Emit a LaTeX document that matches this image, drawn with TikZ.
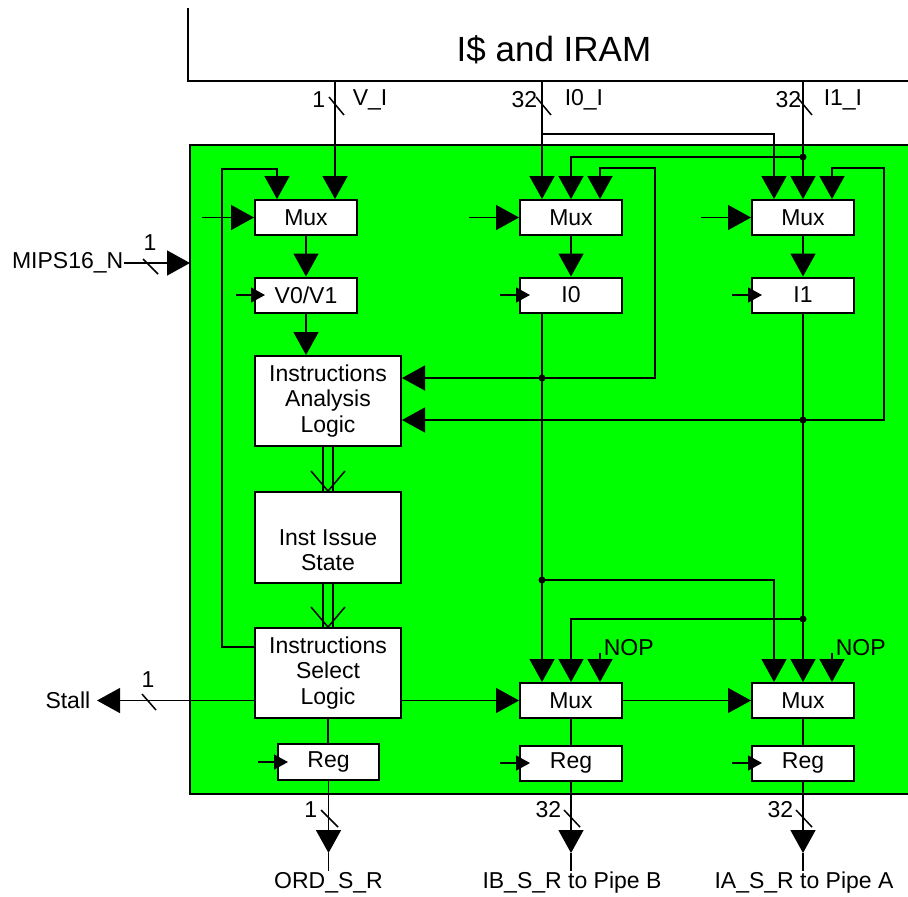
\documentclass[tikz,border=0pt]{standalone}
\usepackage{fontspec}
\setmainfont{Liberation Sans}
\usetikzlibrary{arrows.meta}

\definecolor{issuegreen}{RGB}{0,255,0}

\tikzset{
  txt/.style={inner sep=0pt, font=\fontsize{11.5}{12.8}\selectfont},
  blk/.style={draw, fill=white, line width=1pt, inner sep=0pt, align=center, font=\fontsize{11.5}{12.8}\selectfont},
  mux/.style={blk, minimum width=51pt, minimum height=17.5pt},
  logic/.style={blk, minimum width=73pt, minimum height=45pt},
  big/.style={-{Triangle[length=11.5pt,width=12.5pt]}},
  clk/.style={-{Triangle[length=7pt,width=7.5pt]}}
}

\begin{document}
\begin{tikzpicture}[x=0.5pt, y=-0.5pt, line width=0.75pt]
    \useasboundingbox (0,0) rectangle (908,896);

    % Issue unit background
    \draw[fill=issuegreen, line width=1pt] (190,145) rectangle (930,794);

    % I$ and IRAM
    \draw (188,8) -- (188,81) -- (930,81);
    \node[txt, font=\fontsize{17.5}{20}\selectfont] (iram) at (554,50) {I\$ and IRAM};

    % Coordinates
    \coordinate (vI) at (335,81);
    \coordinate (i0I) at (542,81);
    \coordinate (i1I) at (803,81);
    \coordinate (br0) at (542,134);
    \coordinate (j1) at (803,157);
    \coordinate (fb0) at (542,378);
    \coordinate (fb1) at (803,420);
    \coordinate (j0low) at (542,580);
    \coordinate (j1low) at (803,619);
    \coordinate (nopB) at (600,653);
    \coordinate (nopA) at (832,653);
    \coordinate (mips) at (124,263);
    \coordinate (stall) at (97,700.5);

    % Blocks
    \node[mux] (muxV) at (306,217.5) {Mux};
    \node[mux] (vreg) at (306,295) {V0/V1};
    \node[mux] (mux0) at (571,217.5) {Mux};
    \node[mux] (i0) at (571,295) {I0};
    \node[mux] (mux1) at (803,217.5) {Mux};
    \node[mux] (i1) at (803,295) {I1};
    \node[logic] (ial) at (328,401) {Instructions\\Analysis\\Logic};
    \node[logic, minimum height=45.5pt] (iis) at (328,537.5) {};
    \node[txt, align=center] (iistxt) at (328,550) {Inst Issue\\State};
    \node[logic] (isl) at (328,673) {Instructions\\Select\\Logic};
    \node[mux] (muxB) at (571,700.5) {Mux};
    \node[mux] (muxA) at (803,700.5) {Mux};
    \node[mux, minimum width=50.5pt, minimum height=18pt] (regO) at (328.5,762) {Reg};
    \node[mux] (regB) at (571,763) {Reg};
    \node[mux] (regA) at (803,763) {Reg};

    % Inputs from I$ and IRAM
    \draw[big] (vI) -- (vI |- muxV.north);
    \draw[big] (i0I) -- ([xshift=-14.5pt]mux0.north);
    \draw[big] (br0) -| ([xshift=-14.5pt]mux1.north);
    \draw[big] (i1I) -- (mux1.north);
    \draw[big] (j1) -| (mux0.north);
    \fill (j1) circle (1.75pt);
    \draw (329,97) -- (344,115);
    \draw (536,97) -- (551,115);
    \draw (797,97) -- (812,115);
    \node[txt, anchor=east] (wV) at (326,100) {1};
    \node[txt, anchor=west] (nV) at (352,100) {V\_I};
    \node[txt, anchor=east] (w0) at (538,100) {32};
    \node[txt, anchor=west] (n0) at (564,100) {I0\_I};
    \node[txt, anchor=east] (w1) at (802,100) {32};
    \node[txt, anchor=west] (n1) at (823,100) {I1\_I};

    % Side inputs of the muxes
    \draw[big] ([xshift=-26pt]muxV.west) -- (muxV.west);
    \draw[big] ([xshift=-25pt]mux0.west) -- (mux0.west);
    \draw[big] ([xshift=-25pt]mux1.west) -- (mux1.west);
    \draw[big] (muxV.south) -- (vreg.north);
    \draw[big] (mux0.south) -- (i0.north);
    \draw[big] (mux1.south) -- (i1.north);

    % Clocks
    \draw[clk] ([xshift=-9pt]vreg.west) -- ([xshift=5.5pt]vreg.west);
    \draw[clk] ([xshift=-9.5pt]i0.west) -- ([xshift=5.5pt]i0.west);
    \draw[clk] ([xshift=-9.5pt]i1.west) -- ([xshift=5.5pt]i1.west);
    \draw[clk] ([xshift=-9.5pt]regO.west) -- ([xshift=5.5pt]regO.west);
    \draw[clk] ([xshift=-9.5pt]regB.west) -- ([xshift=5.5pt]regB.west);
    \draw[clk] ([xshift=-9.5pt]regA.west) -- ([xshift=5.5pt]regA.west);

    % Feedback of I0 and I1
    \draw[big] (fb0) -| (655,168) -| ([xshift=14.5pt]mux0.north);
    \draw[big] (fb0) -- (fb0 -| ial.east);
    \fill (fb0) circle (1.75pt);
    \draw[big] (fb1) -| (884,168) -| ([xshift=14.5pt]mux1.north);
    \draw[big] (fb1) -- (fb1 -| ial.east);
    \fill (fb1) circle (1.75pt);

    % Left column
    \draw[big] (vreg.south) -- (vreg.south |- ial.north);
    \draw ([xshift=-2.5pt]ial.south) -- ([xshift=-2.5pt]iis.north);
    \draw ([xshift=2.5pt]ial.south) -- ([xshift=2.5pt]iis.north);
    \draw ([xshift=-8.5pt,yshift=10pt]iis.north) -- (iis.north) -- ([xshift=8.5pt,yshift=10pt]iis.north);
    \draw ([xshift=-2.5pt]iis.south) -- ([xshift=-2.5pt]isl.north);
    \draw ([xshift=2.5pt]iis.south) -- ([xshift=2.5pt]isl.north);
    \draw ([xshift=-8.5pt,yshift=10pt]isl.north) -- (isl.north) -- ([xshift=8.5pt,yshift=10pt]isl.north);
    \draw[big] ([yshift=13pt]isl.west) -| (222,169) -| ([xshift=-14.5pt]muxV.north);
    \draw (isl.south) -- (isl.south |- regO.north);

    % MIPS16_N input
    \draw[big] (mips) -- (190,263);
    \node[txt, anchor=east] (mipsN) at (mips) {MIPS16\_N};
    \draw (143,259) -- (158,274);
    \node[txt] (wM) at (150,243) {1};

    % Output muxes
    \draw[big] (i0.south -| i0I) -- ([xshift=-14.5pt]muxB.north);
    \draw[big] (i1.south) -- (muxA.north);
    \draw[big] (j0low) -| ([xshift=-14.5pt]muxA.north);
    \fill (j0low) circle (1.75pt);
    \draw[big] (j1low) -| (muxB.north);
    \fill (j1low) circle (1.75pt);
    \draw[big] (nopB) -- (nopB |- muxB.north);
    \node[txt, anchor=west] (nopBt) at (603,648) {NOP};
    \draw[big] (nopA) -- (nopA |- muxA.north);
    \node[txt, anchor=west] (nopAt) at (835,648) {NOP};
    \draw[big] (muxB.west -| isl.east) -- (muxB.west);
    \draw[big] (muxB.east) -- (muxA.west);
    \draw (muxB.south) -- (regB.north);
    \draw (muxA.south) -- (regA.north);

    % Stall
    \draw[big] (muxB.west -| isl.west) -- (stall);
    \node[txt, anchor=east] (stallT) at (91,700.5) {Stall};
    \draw (142,694) -- (156,710);
    \node[txt] (wS) at (148,680) {1};

    % Outputs
    \draw[big] (regO.south) -- (328.5,853);
    \draw (328.5,853) -- (328.5,871);
    \draw[big] (regB.south) -- (571,853);
    \draw (571,853) -- (571,871);
    \draw[big] (regA.south) -- (803,853);
    \draw (803,853) -- (803,871);
    \draw (321,810) -- (338,827);
    \draw (564,810) -- (580,827);
    \draw (796,810) -- (812,827);
    \node[txt, anchor=east] (wO) at (318,810) {1};
    \node[txt, anchor=east] (wB) at (562,810) {32};
    \node[txt, anchor=east] (wA) at (794,810) {32};
    \node[txt] (ord) at (328.5,883) {ORD\_S\_R};
    \node[txt] (pipeB) at (572,883) {IB\_S\_R to Pipe B};
    \node[txt] (pipeA) at (804,883) {IA\_S\_R to Pipe A};
\end{tikzpicture}
\end{document}
